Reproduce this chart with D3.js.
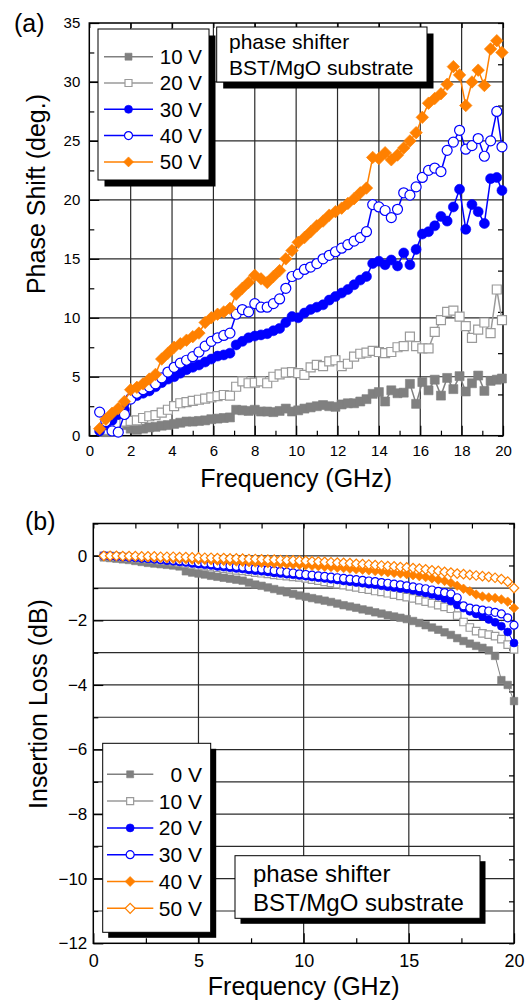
<!DOCTYPE html>
<html>
<head>
<meta charset="utf-8">
<script src="https://cdn.jsdelivr.net/npm/d3@7"></script>
<style>
  body { margin: 0; background: #fff; }
  svg text { font-family: "Liberation Sans", Arial, Helvetica, sans-serif; fill: #000; }
</style>
</head>
<body>
<script>
// ---- panel (a): phase shift vs frequency ----
var freqA = [
  0.5, 0.8, 1.1, 1.4, 1.7, 2.0, 2.3, 2.6, 2.9, 3.2, 3.5,
  3.8, 4.1, 4.4, 4.7, 5.0, 5.3, 5.6, 5.9, 6.2, 6.5, 6.8,
  7.1, 7.4, 7.7, 8.0, 8.3, 8.6, 8.9, 9.2, 9.5, 9.8, 10.1,
  10.4, 10.7, 11.0, 11.3, 11.6, 11.9, 12.2, 12.5, 12.8, 13.1, 13.4,
  13.7, 14.0, 14.3, 14.6, 14.9, 15.2, 15.5, 15.8, 16.1, 16.4, 16.7,
  17.0, 17.3, 17.6, 17.9, 18.2, 18.5, 18.8, 19.1, 19.4, 19.7, 19.95
];
var phase10V = [
  null, 0.3, 0.5, 0.6, 0.9, 0.6, 0.5, 0.6, 0.7, 0.75, 0.85,
  0.9, 1.0, 1.1, 1.2, 1.2, 1.25, 1.3, 1.4, 1.45, 1.5, 1.55,
  2.2, 2.15, 2.1, 2.2, 2.05, 2.05, 2.0, 2.1, 2.3, 2.05, 2.15,
  2.3, 2.4, 2.5, 2.6, 2.5, 2.45, 2.65, 2.75, 2.75, 2.9, 3.1,
  3.55, 3.7, 2.9, 3.85, 3.6, 3.65, 4.4, 2.7, 4.55, 3.85, 4.75,
  3.4, 4.9, 3.95, 5.05, 3.75, 4.45, 5.1, 3.8, 4.65, 4.75, 4.85
];
var phase20V = [
  null, 0.5, 0.8, 1.0, 1.2, 1.25, 1.3, 1.5, 1.65, 1.75, 1.95,
  2.2, 2.5, 2.75, 2.85, 2.95, 3.05, 3.15, 3.25, 3.35, 3.45, 3.4,
  4.15, 4.6, 4.45, 4.5, 4.6, 4.45, 5.0, 5.2, 5.35, 5.4, 5.3,
  5.15, 5.8, 6.0, 5.9, 6.3, 6.4, 5.9, 6.1, 6.7, 6.95, 7.05,
  7.2, 7.1, 7.0, 7.1, 7.5, 7.6, 8.4, 7.6, 7.4, 7.4, 8.8,
  9.8, 10.5, 10.6, 10.1, 9.3, 8.3, 9.0, 9.6, 8.7, 12.4, 9.8
];
var phase30V = [
  0.4, 0.9, 1.3, 1.8, 2.2, 3.2, 3.4, 3.6, 3.8, 4.15, 4.5,
  4.8, 5.0, 5.3, 5.6, 5.8, 6.0, 6.25, 6.5, 6.75, 6.85, 7.0,
  7.7, 8.0, 8.3, 8.45, 8.55, 8.65, 8.9, 9.1, 9.6, 10.1, 10.0,
  10.4, 10.7, 10.9, 11.1, 11.5, 11.8, 12.1, 12.4, 12.8, 13.2, 13.5,
  14.6, 14.8, 14.5, 14.9, 14.4, 15.5, 14.5, 15.8, 17.1, 17.3, 17.8,
  18.6, 18.2, 19.4, 20.9, 17.5, 19.6, 19.0, 18.0, 21.8, 21.9, 20.8
];
var phase40V = [
  2.0, 1.2, 0.4, 0.3, 1.8, 3.1, 3.6, 3.9, 4.15, 4.4, 4.9,
  5.4, 5.8, 6.15, 6.4, 6.7, 7.1, 7.6, 8.0, 8.3, 8.5, 8.7,
  10.3, 10.7, 10.5, 11.2, 10.9, 10.9, 11.2, 11.6, 12.5, 13.5, 13.7,
  14.1, 14.3, 14.6, 15.0, 15.3, 15.6, 15.9, 16.2, 16.5, 16.8, 17.3,
  19.6, 19.4, 19.1, 18.5, 19.2, 20.6, 20.4, 21.1, 21.9, 22.5, 22.7,
  22.4, 24.2, 24.9, 25.9, 24.3, 24.6, 25.2, 23.7, 25.0, 27.5, 24.5
];
var phase50V = [
  0.6, 1.4, 1.9, 2.3, 2.9, 3.9, 4.1, 4.4, 4.8, 5.2, 6.5,
  7.0, 7.5, 7.8, 8.1, 8.4, 8.7, 9.6, 10.0, 10.3, 10.5, 10.8,
  12.0, 12.5, 13.0, 13.6, 13.3, 13.0, 13.5, 14.0, 15.0, 15.7, 16.4,
  16.8, 17.3, 17.8, 18.2, 18.7, 19.0, 19.3, 19.7, 20.1, 20.6, 21.0,
  23.6, 23.5, 24.0, 23.4, 23.8, 24.4, 25.0, 25.7, 27.0, 28.2, 28.6,
  29.0, 29.8, 31.3, 30.6, 28.0, 30.0, 31.0, 29.7, 32.8, 33.5, 32.5
];
var xTicksA = [0, 2, 4, 6, 8, 10, 12, 14, 16, 18, 20];
var yTicksA = [0, 5, 10, 15, 20, 25, 30, 35];
var labelsA = ["10 V", "20 V", "30 V", "40 V", "50 V"];

// ---- panel (b): insertion loss vs frequency ----
var freqB = [
  0.5, 0.8, 1.1, 1.4, 1.7, 2.0, 2.3, 2.6, 2.9, 3.2, 3.5,
  3.8, 4.1, 4.4, 4.7, 5.0, 5.3, 5.6, 5.9, 6.2, 6.5, 6.8,
  7.1, 7.4, 7.7, 8.0, 8.3, 8.6, 8.9, 9.2, 9.5, 9.8, 10.1,
  10.4, 10.7, 11.0, 11.3, 11.6, 11.9, 12.2, 12.5, 12.8, 13.1, 13.4,
  13.7, 14.0, 14.3, 14.6, 14.9, 15.2, 15.5, 15.8, 16.1, 16.4, 16.7,
  17.0, 17.3, 17.6, 17.9, 18.2, 18.5, 18.8, 19.1, 19.4, 19.7, 20.0
];
var loss0V = [
  -0.05, -0.07, -0.09, -0.11, -0.13, -0.16, -0.19, -0.22, -0.24, -0.26, -0.28,
  -0.30, -0.33, -0.48, -0.52, -0.55, -0.58, -0.62, -0.65, -0.68, -0.71, -0.74,
  -0.77, -0.83, -0.89, -0.93, -0.98, -1.03, -1.08, -1.13, -1.18, -1.23, -1.27,
  -1.31, -1.35, -1.39, -1.43, -1.48, -1.53, -1.57, -1.61, -1.66, -1.70, -1.75,
  -1.79, -1.84, -1.88, -1.92, -1.96, -2.02, -2.08, -2.15, -2.22, -2.29, -2.37,
  -2.45, -2.55, -2.64, -2.72, -2.79, -2.85, -2.93, -3.10, -3.85, -4.00, -4.50
];
var loss10V = [
  0.00, -0.01, -0.02, -0.04, -0.05, -0.07, -0.08, -0.10, -0.12, -0.14, -0.16,
  -0.19, -0.21, -0.24, -0.27, -0.30, -0.32, -0.35, -0.37, -0.40, -0.42, -0.45,
  -0.47, -0.49, -0.52, -0.54, -0.56, -0.59, -0.61, -0.63, -0.65, -0.67, -0.70,
  -0.74, -0.77, -0.81, -0.84, -0.88, -0.91, -0.95, -0.98, -1.02, -1.05, -1.09,
  -1.12, -1.16, -1.20, -1.24, -1.28, -1.32, -1.37, -1.42, -1.47, -1.53, -1.58,
  -1.64, -1.85, -2.05, -2.22, -2.33, -2.40, -2.44, -2.49, -2.58, -2.75, -2.90
];
var loss20V = [
  0.00, -0.01, -0.02, -0.04, -0.05, -0.06, -0.08, -0.09, -0.11, -0.13, -0.15,
  -0.17, -0.19, -0.21, -0.24, -0.26, -0.28, -0.30, -0.33, -0.35, -0.37, -0.39,
  -0.41, -0.44, -0.46, -0.48, -0.50, -0.53, -0.55, -0.57, -0.59, -0.61, -0.63,
  -0.66, -0.68, -0.70, -0.73, -0.75, -0.78, -0.80, -0.83, -0.85, -0.88, -0.90,
  -0.93, -0.96, -0.98, -1.01, -1.03, -1.07, -1.11, -1.15, -1.20, -1.25, -1.32,
  -1.40, -1.52, -1.62, -1.72, -1.80, -1.88, -1.97, -2.06, -2.18, -2.36, -2.70
];
var loss30V = [
  0.00, -0.01, -0.02, -0.03, -0.04, -0.05, -0.06, -0.08, -0.09, -0.11, -0.12,
  -0.14, -0.16, -0.17, -0.19, -0.21, -0.23, -0.25, -0.27, -0.29, -0.31, -0.33,
  -0.35, -0.37, -0.39, -0.41, -0.43, -0.46, -0.48, -0.51, -0.53, -0.56, -0.58,
  -0.60, -0.62, -0.64, -0.66, -0.68, -0.70, -0.72, -0.74, -0.76, -0.78, -0.80,
  -0.83, -0.85, -0.88, -0.90, -0.93, -0.96, -0.99, -1.02, -1.06, -1.10, -1.14,
  -1.18, -1.30, -1.55, -1.62, -1.65, -1.68, -1.71, -1.75, -1.80, -1.92, -2.15
];
var loss40V = [
  0.00, -0.01, -0.01, -0.02, -0.03, -0.03, -0.04, -0.05, -0.06, -0.07, -0.08,
  -0.09, -0.10, -0.11, -0.12, -0.12, -0.13, -0.14, -0.15, -0.16, -0.17, -0.18,
  -0.19, -0.20, -0.21, -0.22, -0.23, -0.24, -0.25, -0.26, -0.27, -0.28, -0.29,
  -0.31, -0.32, -0.34, -0.35, -0.37, -0.38, -0.40, -0.42, -0.43, -0.45, -0.47,
  -0.49, -0.51, -0.53, -0.55, -0.57, -0.60, -0.63, -0.66, -0.70, -0.74, -0.78,
  -0.84, -0.93, -1.02, -1.10, -1.20, -1.26, -1.29, -1.31, -1.35, -1.42, -1.62
];
var loss50V = [
  0.00, 0.00, 0.00, -0.01, -0.01, -0.01, -0.02, -0.02, -0.02, -0.03, -0.03,
  -0.03, -0.04, -0.04, -0.05, -0.05, -0.06, -0.06, -0.07, -0.07, -0.08, -0.08,
  -0.09, -0.10, -0.10, -0.11, -0.12, -0.12, -0.13, -0.14, -0.14, -0.15, -0.16,
  -0.17, -0.18, -0.19, -0.20, -0.21, -0.22, -0.23, -0.25, -0.26, -0.27, -0.29,
  -0.30, -0.32, -0.33, -0.35, -0.36, -0.38, -0.40, -0.42, -0.45, -0.47, -0.50,
  -0.52, -0.55, -0.57, -0.59, -0.61, -0.63, -0.65, -0.68, -0.72, -0.80, -1.00
];
var xTicksB = [0, 5, 10, 15, 20];
var yTicksB = [-12, -10, -8, -6, -4, -2, 0];
var labelsB = ["0 V", "10 V", "20 V", "30 V", "40 V", "50 V"];

var GRAY = "#808080", LIGHTGRAY = "#9a9a9a", BLUE = "#0000ff", ORANGE = "#ff8000";

var svg = d3.select("body").append("svg")
  .attr("width", 528)
  .attr("height", 1004);

// marker shapes; a diamond is a square turned by 45 degrees
function symbolPath(shape, s) {
  if (shape === "circle") return d3.symbol(d3.symbolCircle, Math.PI * s * s / 4)();
  if (shape === "diamond") return d3.symbol(d3.symbolSquare, s * s / 2)();
  return d3.symbol(d3.symbolSquare, s * s)();
}

function drawMarker(sel, s, size) {
  return sel.attr("d", symbolPath(s.shape, size))
    .attr("fill", s.filled ? s.color : "#fff")
    .attr("stroke", s.color)
    .attr("stroke-width", s.filled ? 0.6 : 1.2);
}

function drawPanel(p) {
  var x = d3.scaleLinear().domain([0, 20]).range([p.left, p.right]);
  var y = d3.scaleLinear().domain(p.yDomain).range([p.bottom, p.top]);
  var yRight = d3.scaleLinear().domain([0, 10]).range([p.bottom, p.top]);
  var g = svg.append("g");

  // grid lines
  g.append("g").selectAll("line").data(p.xGrid).join("line")
    .attr("x1", d => x(d)).attr("x2", d => x(d))
    .attr("y1", p.top).attr("y2", p.bottom)
    .attr("stroke", "#2a2a2a").attr("stroke-width", 1.2);
  g.append("g").selectAll("line").data(p.yGrid).join("line")
    .attr("x1", p.left).attr("x2", p.right)
    .attr("y1", d => y(d)).attr("y2", d => y(d))
    .attr("stroke", "#2a2a2a").attr("stroke-width", 1.2);

  // axes, ticks pointing inward
  var bottom = g.append("g").attr("transform", `translate(0,${p.bottom})`)
    .call(d3.axisBottom(x).tickValues(p.xTicks).tickSize(-10).tickPadding(p.xPad).tickFormat(d3.format("d")));
  bottom.selectAll("text").attr("font-size", p.xFont);
  g.append("g").attr("transform", `translate(0,${p.bottom})`)
    .call(d3.axisBottom(x).tickValues(p.xMinor).tickSize(-5).tickFormat(""));

  var left = g.append("g").attr("transform", `translate(${p.left},0)`)
    .call(d3.axisLeft(y).tickValues(p.yTicks).tickSize(-10).tickPadding(p.yPad));
  left.selectAll("text").attr("font-size", p.yFont);
  g.append("g").attr("transform", `translate(${p.left},0)`)
    .call(d3.axisLeft(y).tickValues(p.yMinor).tickSize(-5).tickFormat(""));

  g.append("g").attr("transform", `translate(0,${p.top})`)
    .call(d3.axisTop(x).tickValues(p.topTicks).tickSize(-5).tickFormat(""));
  g.append("g").attr("transform", `translate(${p.right},0)`)
    .call(d3.axisRight(yRight).ticks(10).tickSize(-5).tickFormat(""));

  g.selectAll(".domain").remove();
  g.selectAll(".tick line").attr("stroke", "#000").attr("stroke-width", 1.2);

  g.append("rect")
    .attr("x", p.left).attr("y", p.top)
    .attr("width", p.right - p.left).attr("height", p.bottom - p.top)
    .attr("fill", "none").attr("stroke", "#000").attr("stroke-width", 1.5);

  // series
  var line = d3.line().x(d => x(d[0])).y(d => y(d[1]));
  p.series.forEach(function(s) {
    var pts = p.freq.map((f, i) => [f, s.values[i]]).filter(d => d[1] != null);
    g.append("path")
      .attr("d", line(pts))
      .attr("fill", "none")
      .attr("stroke", s.color)
      .attr("stroke-width", p.lineWidth);
    g.append("g").selectAll("path").data(pts).join("path")
      .call(drawMarker, s, p.markerSize[s.shape])
      .attr("transform", d => `translate(${x(d[0])},${y(d[1])})` + (s.shape === "diamond" ? " rotate(45)" : ""));
  });

  // legend box with drop shadow
  var L = p.legend;
  g.append("rect").attr("x", L.x + L.shadow).attr("y", L.y + L.shadow)
    .attr("width", L.w).attr("height", L.h).attr("fill", "#000");
  g.append("rect").attr("x", L.x).attr("y", L.y)
    .attr("width", L.w).attr("height", L.h)
    .attr("fill", "#fff").attr("stroke", "#000").attr("stroke-width", 1);
  p.series.forEach(function(s, i) {
    var cy = L.row0 + i * L.rowStep;
    g.append("line").attr("x1", L.lineX0).attr("x2", L.lineX1)
      .attr("y1", cy).attr("y2", cy)
      .attr("stroke", s.color).attr("stroke-width", 1.5);
    g.append("path")
      .call(drawMarker, s, L.markerSize[s.shape])
      .attr("transform", `translate(${(L.lineX0 + L.lineX1) / 2},${cy})` + (s.shape === "diamond" ? " rotate(45)" : ""));
    g.append("text").attr("x", L.textX).attr("y", cy + L.font * 0.36)
      .attr("text-anchor", "end").attr("font-size", L.font)
      .text(s.label);
  });

  // annotation box
  var A = p.note;
  g.append("rect").attr("x", A.x + A.shadow).attr("y", A.y + A.shadow)
    .attr("width", A.w).attr("height", A.h).attr("fill", "#000");
  g.append("rect").attr("x", A.x).attr("y", A.y)
    .attr("width", A.w).attr("height", A.h)
    .attr("fill", "#fff").attr("stroke", "#000").attr("stroke-width", 1);
  ["phase shifter", "BST/MgO substrate"].forEach(function(t, i) {
    g.append("text").attr("x", A.textX).attr("y", A.base0 + i * A.lineStep)
      .attr("font-size", A.font).text(t);
  });

  // titles
  g.append("text").attr("x", p.tag[0]).attr("y", p.tag[1])
    .attr("font-size", 25).text(p.tagText);
  g.append("text").attr("x", (p.left + p.right) / 2).attr("y", p.xTitleY)
    .attr("text-anchor", "middle").attr("font-size", p.titleFont).text("Frequency (GHz)");
  g.append("text")
    .attr("transform", `translate(${p.yTitleX},${p.yTitleMid}) rotate(-90)`)
    .attr("text-anchor", "middle").attr("font-size", p.titleFont).text(p.yTitle);
}

drawPanel({
  left: 89.3, right: 503, top: 23, bottom: 435.7,
  yDomain: [0, 35],
  freq: freqA,
  xTicks: xTicksA, xMinor: xTicksA.slice(1).map(d => d - 1),
  yTicks: yTicksA, yMinor: yTicksA.slice(1).map(d => d - 2.5),
  topTicks: xTicksA,
  xGrid: xTicksA.slice(1, -1), yGrid: yTicksA.slice(1, -1),
  xPad: 10, yPad: 9, xFont: 15, yFont: 15,
  lineWidth: 1.5,
  markerSize: { square: 9, circle: 10, diamond: 12.5 },
  series: [
    { label: labelsA[0], values: phase10V, color: GRAY, shape: "square", filled: true },
    { label: labelsA[1], values: phase20V, color: LIGHTGRAY, shape: "square", filled: false },
    { label: labelsA[2], values: phase30V, color: BLUE, shape: "circle", filled: true },
    { label: labelsA[3], values: phase40V, color: BLUE, shape: "circle", filled: false },
    { label: labelsA[4], values: phase50V, color: ORANGE, shape: "diamond", filled: true }
  ],
  legend: { x: 98, y: 29, w: 111, h: 151, shadow: 6.5, row0: 56.7, rowStep: 26.3,
            lineX0: 104, lineX1: 153, textX: 202, font: 20.5,
            markerSize: { square: 7, circle: 8, diamond: 10 } },
  note: { x: 216.7, y: 27, w: 210.3, h: 55, shadow: 6.5, textX: 229, base0: 49, lineStep: 26, font: 21 },
  tag: [14, 32], tagText: "(a)",
  xTitleY: 487, yTitleX: 45, yTitleMid: 194, titleFont: 25,
  yTitle: "Phase Shift (deg.)"
});

drawPanel({
  left: 93.3, right: 514, top: 523.5, bottom: 943.3,
  yDomain: [-12, 1],
  freq: freqB,
  xTicks: xTicksB, xMinor: xTicksB.slice(1).map(d => d - 2.5),
  yTicks: yTicksB, yMinor: yTicksB.map(d => d + 1),
  topTicks: [0, 2, 4, 6, 8, 10, 12, 14, 16, 18, 20],
  xGrid: xTicksB.slice(1, -1), yGrid: d3.range(-11, 1),
  xPad: 11, yPad: 6, xFont: 18, yFont: 17,
  lineWidth: 1,
  markerSize: { square: 7.5, circle: 8, diamond: 9.5 },
  series: [
    { label: labelsB[0], values: loss0V, color: GRAY, shape: "square", filled: true },
    { label: labelsB[1], values: loss10V, color: LIGHTGRAY, shape: "square", filled: false },
    { label: labelsB[2], values: loss20V, color: BLUE, shape: "circle", filled: true },
    { label: labelsB[3], values: loss30V, color: BLUE, shape: "circle", filled: false },
    { label: labelsB[4], values: loss40V, color: ORANGE, shape: "diamond", filled: true },
    { label: labelsB[5], values: loss50V, color: ORANGE, shape: "diamond", filled: false }
  ],
  legend: { x: 102.7, y: 743.3, w: 108, h: 189, shadow: 5.5, row0: 774.3, rowStep: 26.8,
            lineX0: 107, lineX1: 153.3, textX: 202, font: 21,
            markerSize: { square: 7, circle: 8, diamond: 10 } },
  note: { x: 235, y: 855.7, w: 245, h: 62.6, shadow: 5.5, textX: 253, base0: 882, lineStep: 28.7, font: 24 },
  tag: [25, 530], tagText: "(b)",
  xTitleY: 995, yTitleX: 47, yTitleMid: 704, titleFont: 25,
  yTitle: "Insertion Loss (dB)"
});
</script>
</body>
</html>
